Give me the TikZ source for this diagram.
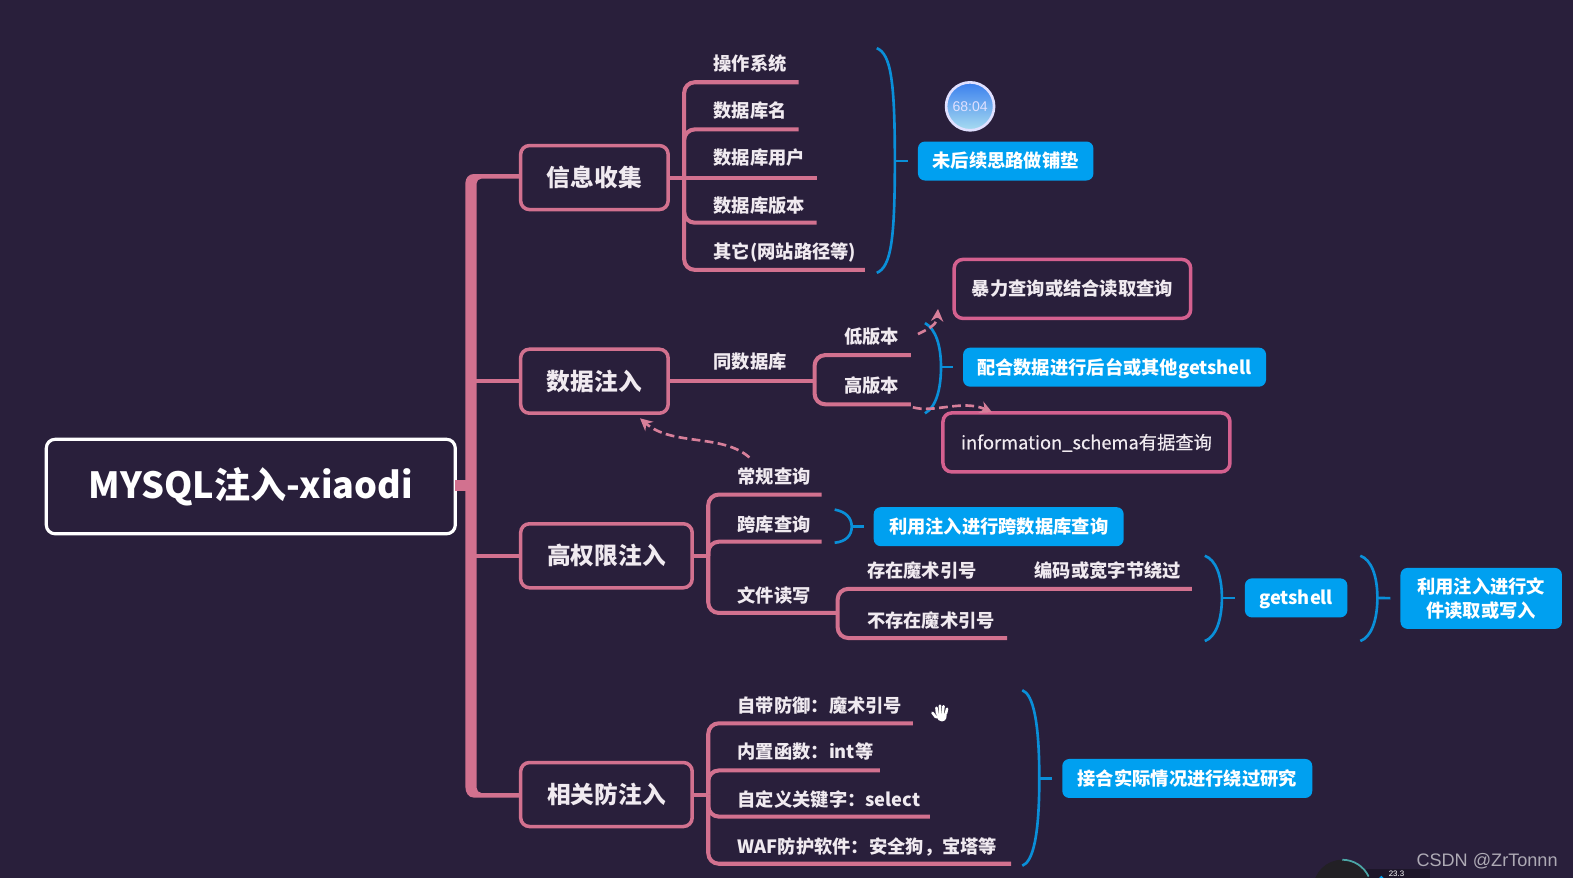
\documentclass[tikz,border=0pt]{standalone}
\usepackage{fontspec}
\setmainfont{Noto Sans CJK SC}
\newfontfamily\markfont{Liberation Sans}
\newfontfamily\midfont[FakeBold=0.5]{Noto Sans CJK SC}
\usetikzlibrary{arrows.meta, positioning, calc}
\usepackage{xcolor}
\definecolor{mapbg}{HTML}{291F3B}
\definecolor{mappink}{HTML}{D2718F}
\definecolor{boxpink}{HTML}{D4608F}
\definecolor{mapblue}{HTML}{00A0F0}
\definecolor{bracketblue}{HTML}{0A8FD8}
\definecolor{leaftext}{HTML}{F0EAF0}
\definecolor{timerblue}{HTML}{3A7FEE}
\definecolor{timerlight}{HTML}{A8DCF0}

\begin{document}
\begin{tikzpicture}[
  x=0.02006cm, y=-0.02006cm,
  rootbox/.style={
    rectangle, rounded corners=5pt,
    minimum width=81.8mm, minimum height=18.9mm,
    draw=white, line width=1.8pt, fill=mapbg, outer sep=0pt,
    font=\bfseries\fontsize{20.5}{24}\selectfont, text=white
  },
  topic/.style={
    rectangle, rounded corners=5pt,
    minimum width=29.5mm, minimum height=12.8mm,
    draw=mappink, line width=2pt, outer sep=0pt,
    font=\bfseries\fontsize{13.5}{16}\selectfont, text=leaftext
  },
  topicwide/.style={topic, minimum width=34.3mm},
  leaf/.style={
    anchor=west, inner sep=0pt, text height=10pt, text depth=1.5pt,
    font=\bfseries\fontsize{10.4}{13}\selectfont, text=leaftext
  },
  outline/.style={
    rectangle, rounded corners=5pt,
    minimum height=11.8mm, text height=9.6pt, text depth=1.8pt,
    draw=boxpink, line width=2pt, outer sep=0pt,
    font=\bfseries\fontsize{10.4}{13}\selectfont, text=leaftext
  },
  fact/.style={
    rectangle, rounded corners=4pt,
    minimum height=7.8mm, inner sep=0pt, align=center,
    fill=mapblue, outer sep=0pt,
    font=\bfseries\fontsize{10.4}{13.5}\selectfont, text=white
  },
  factline/.style={fact, text height=9.6pt, text depth=1.8pt},
  branch/.style={draw=mappink, line width=2.3pt, rounded corners=6pt},
  spine/.style={draw=mappink, line width=6.4pt},
  bracket/.style={draw=bracketblue, line width=1.5pt},
  bracketarm/.style={draw=bracketblue, line width=1.5pt, shorten >=5.7pt},
  hint/.style={
    draw=mappink!90!white, line width=1.5pt, dash pattern=on 5pt off 2.5pt,
    -{Stealth[length=7pt, width=7pt]}
  }
]
  \useasboundingbox (0,0) rectangle (1568,875.2);
  \clip (0,0) rectangle (1568,875.2);
  \fill[mapbg] (0,0) rectangle (1568,875.2);

  % main spine
  \node[rootbox] (root) at (250,485) {MYSQL注入-xiaodi};
  \node[topic] (info) at (592.5,177) {信息收集};
  \node[topic] (data) at (592.5,380) {数据注入};
  \node[topicwide] (priv) at (604.5,554) {高权限注入};
  \node[topicwide] (guard) at (604.5,792) {相关防注入};

  \coordinate (spinemid) at (470,484);
  \fill[mappink]
    (info.west |- 0,173.5) -- (472,173.5) to[out=180, in=90] (464,182) -- (464,785)
    to[out=-90, in=180] (472,795) -- (guard.west |- 0,795) -- (guard.west |- 0,790.5)
    -- (480,790.5) to[out=180, in=-90] (475,785) -- (475,183)
    to[out=90, in=180] (480,178) -- (info.west |- 0,178) -- cycle;
  \draw[spine] (root.east |- spinemid) -- (spinemid);
  \draw[branch] (spinemid |- data.west) -- (data.west);
  \draw[branch] (spinemid |- priv.west) -- (priv.west);

  % info branch
  \node[leaf] (os) at (711,63) {操作系统};
  \node[leaf] (dbname) at (711,110) {数据库名};
  \node[leaf] (dbuser) at (711,157) {数据库用户};
  \node[leaf] (dbver) at (711,204) {数据库版本};
  \node[leaf] (other) at (711,250) {其它(网站路径等)};
  \coordinate (infohub) at (682,177);
  \coordinate (osend) at (796,82);
  \coordinate (dbnameend) at (796,129);
  \coordinate (dbuserend) at (814,177);
  \coordinate (dbverend) at (814,222);
  \coordinate (otherend) at (862,269);
  \draw[branch] (info.east) -- (dbuserend);
  \draw[branch] (infohub) |- (osend);
  \draw[branch] (infohub) |- (dbnameend);
  \draw[branch] (infohub) |- (dbverend);
  \draw[branch] (infohub) |- (otherend);

  \coordinate (infotip) at (892,160.5);
  \node[factline, minimum width=35.1mm] (paving) at (1002.5,160.5) {未后续思路做铺垫};
  \draw[bracket] (874,48) .. controls (888,54) and (892,80) .. (infotip)
    .. controls (892,240) and (888,266) .. (874,272);
  \draw[bracketarm] (infotip) -- (paving.west);

  % timer badge
  \node[circle, minimum size=9.6mm, inner sep=0pt, draw=white!88!blue, line width=1.5pt,
    top color=timerblue, middle color=timerblue, bottom color=timerlight,
    font=\fontsize{8}{10}\selectfont\markfont, text=white!88!blue] (timer) at (967,106) {68:04};

  % data branch
  \node[leaf] (samedb) at (711,360) {同数据库};
  \node[leaf] (lowver) at (841,335) {低版本};
  \node[leaf] (highver) at (841,384) {高版本};
  \coordinate (datahub) at (812,380);
  \coordinate (lowend) at (908,354);
  \coordinate (highend) at (908,403);
  \draw[branch] (data.east) -- (datahub);
  \draw[branch] (datahub) |- (lowend);
  \draw[branch] (datahub) |- (highend);

  \node[outline, minimum width=47.3mm] (brute) at (1069,288) {暴力查询或结合读取查询};
  \node[outline, minimum width=57.4mm] (schema) at (1083,441) {\midfont\mdseries information\_schema有据查询};
  \node[factline, minimum width=60.6mm] (backend) at (1111,366) {配合数据进行后台或其他getshell};
  \coordinate (vertip) at (938,366);
  \draw[bracket] (922,322) .. controls (933,328) and (938,345) .. (vertip)
    .. controls (938,388) and (933,406) .. (922,412);
  \draw[bracketarm] (vertip) -- (backend.west);

  \coordinate (lowfrom) at (915,333);
  \coordinate (lowto) at (935,308);
  \coordinate (highfrom) at (910,406);
  \coordinate (highto) at (989,411);
  \coordinate (normalfrom) at (747,456);
  \coordinate (normalto) at (638,417);
  \draw[hint] (lowfrom) .. controls (930,326) and (934,322) .. (lowto);
  \draw[hint] (highfrom) .. controls (930,412) and (960,398) .. (highto);
  \draw[hint] (normalfrom) .. controls (720,432) and (670,445) .. (normalto);

  % privilege branch
  \node[leaf] (normal) at (735,475) {常规查询};
  \node[leaf] (crossdb) at (735,522) {跨库查询};
  \node[leaf] (fileio) at (735,593) {文件读写};
  \node[leaf] (quoteon) at (864,568) {存在魔术引号};
  \node[leaf] (encode) at (1031,568) {编码或宽字节绕过};
  \node[leaf] (quoteoff) at (864,618) {不存在魔术引号};
  \coordinate (privhub) at (706,554);
  \coordinate (normalend) at (819,493);
  \coordinate (crossend) at (819,540);
  \coordinate (filehub) at (835,611);
  \coordinate (onend) at (1188,587);
  \coordinate (offend) at (1004,636);
  \draw[branch] (priv.east) -- (privhub);
  \draw[branch] (privhub) |- (normalend);
  \draw[branch] (privhub) |- (crossend);
  \draw[branch] (privhub) |- (filehub);
  \draw[branch] (filehub) |- (onend);
  \draw[branch] (filehub) |- (offend);

  \node[factline, minimum width=50mm] (crossfact) at (995.5,525) {利用注入进行跨数据库查询};
  \node[factline, minimum width=20.5mm] (getshell) at (1292,596) {getshell};
  \node[fact, minimum width=32.3mm, minimum height=12.2mm] (filefact) at (1476.5,596.5) {利用注入进行文\\件读取或写入};
  \coordinate (crosstip) at (849,525);
  \coordinate (shelltip) at (1218,596);
  \coordinate (filetip) at (1373,596);
  \draw[bracket] (832,508) .. controls (843,510) and (849,516) .. (crosstip)
    .. controls (849,534) and (843,540) .. (832,541);
  \draw[bracketarm] (crosstip) -- (crossfact.west);
  \draw[bracket] (1201,554) .. controls (1212,558) and (1218,574) .. (shelltip)
    .. controls (1218,618) and (1212,635) .. (1201,639);
  \draw[bracketarm] (shelltip) -- (getshell.west);
  \draw[bracket] (1356,554) .. controls (1367,558) and (1373,574) .. (filetip)
    .. controls (1373,618) and (1367,635) .. (1356,639);
  \draw[bracketarm] (filetip) -- (filefact.west);

  % guard branch
  \node[leaf] (selfguard) at (735,703) {自带防御：魔术引号};
  \node[leaf] (builtin) at (735,749) {内置函数：int等};
  \node[leaf] (keyword) at (735,796) {自定义关键字：select};
  \node[leaf] (waf) at (735,843) {WAF防护软件：安全狗，宝塔等};
  \coordinate (guardhub) at (706,792);
  \coordinate (selfend) at (910,721);
  \coordinate (builtinend) at (877,768);
  \coordinate (keywordend) at (927,814);
  \coordinate (wafend) at (1008,861);
  \draw[branch] (guard.east) -- (guardhub);
  \draw[branch] (guardhub) |- (selfend);
  \draw[branch] (guardhub) |- (builtinend);
  \draw[branch] (guardhub) |- (keywordend);
  \draw[branch] (guardhub) |- (wafend);

  \node[factline, minimum width=50mm] (research) at (1183.5,776) {接合实际情况进行绕过研究};
  \coordinate (guardtip) at (1036,776);
  \draw[bracket] (1019,688) .. controls (1030,692) and (1036,720) .. (guardtip)
    .. controls (1036,832) and (1030,859) .. (1019,863);
  \draw[bracketarm] (guardtip) -- (research.west);

  % hand cursor
  \fill[white, rounded corners=2pt] (932.5,709) -- (944,709) -- (943,719) -- (935,719) -- cycle;
  \draw[white, line width=1.5pt, line cap=round]
    (934,711) -- (933.5,705.5) (937,710) -- (937,703.5)
    (940,710) -- (940.5,704) (943,711) -- (944,706.5) (933,715) -- (929.5,710.5);
  \draw[black!80, line width=0.25pt]
    (935.5,711) -- (935.5,705) (938.5,711) -- (938.5,704.5) (941.5,711) -- (942,706);

  % corner widget
  \fill[black!30!mapbg] (1362,866) rectangle (1425,880);
  \fill[gray!25!black!80!mapbg] (1338,886) circle (29);
  \draw[teal!70!white, line width=1pt] (1338,857) arc[start angle=-90, end angle=-25, radius=29];
  \fill[mapblue] (1377,873) -- (1380,876) -- (1374,876) -- cycle;
  \node[inner sep=0pt, anchor=west, font=\fontsize{4.5}{5.5}\selectfont\markfont, text=white] (speed) at (1384,870.5) {23.3};

  \node[inner sep=0pt, anchor=east, font=\fontsize{10.3}{13}\selectfont\markfont, text=white!62!mapbg] (mark) at (1553,858) {CSDN @ZrTonnn};
\end{tikzpicture}
\end{document}
